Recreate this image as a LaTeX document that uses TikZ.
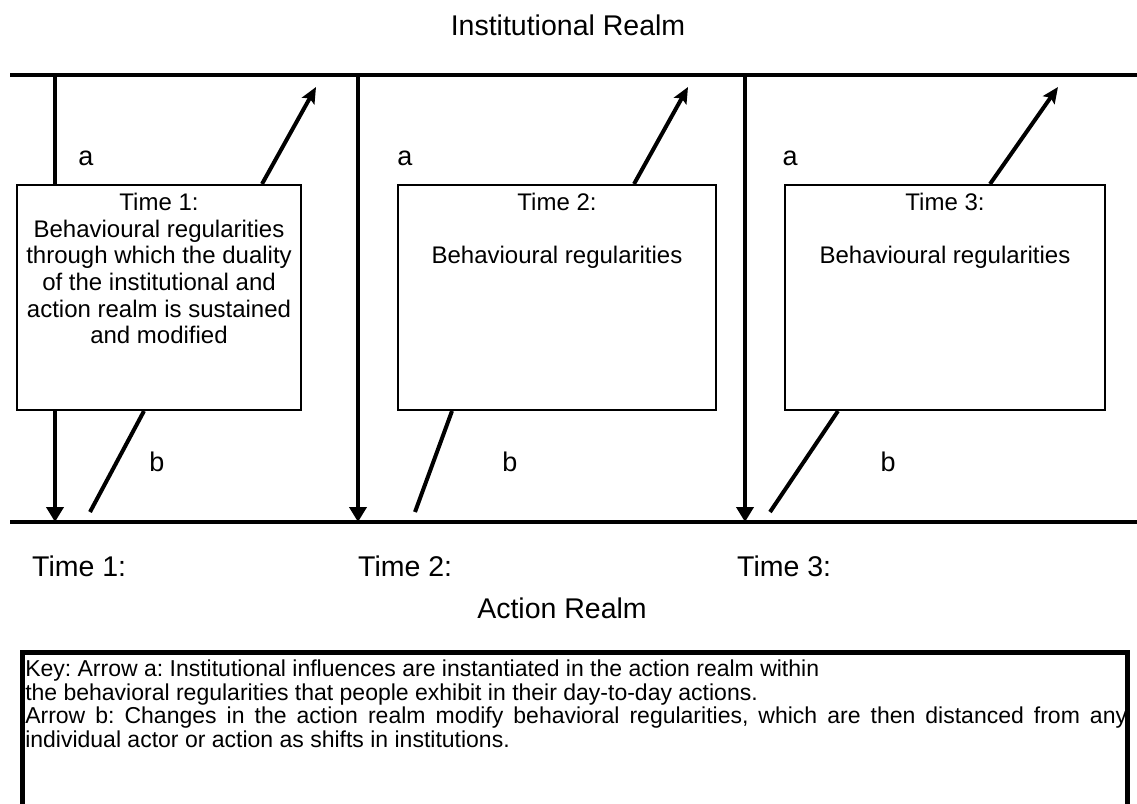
\documentclass[tikz,border=0pt]{standalone}
\usepackage{fontspec}
\setmainfont{Liberation Sans}
\usetikzlibrary{positioning,arrows.meta}

\begin{document}
\begin{tikzpicture}[x=1pt,y=-1pt,
  box/.style={draw,line width=2pt,inner sep=0pt},
  realm/.style={line width=4.5pt},
  vline/.style={line width=4pt},
  down/.style={line width=4pt,-{Triangle[width=17pt,length=15pt]}},
  up/.style={line width=4pt,-{Stealth[width=14pt,length=16pt,inset=3pt]}},
  lbl/.style={inner sep=0pt,font=\fontsize{27}{30}\selectfont},
  big/.style={inner sep=0pt,font=\fontsize{28.5}{34}\selectfont}]
\useasboundingbox (0,0) rectangle (1137,803);
\clip (0,0) rectangle (1137,803);
\node (1) [box] at (159,297.5) {\begin{minipage}[c][225pt][t]{284pt}\centering\fontsize{24}{26.7}\selectfont\vspace*{8pt}Time 1:\\Behavioural regularities\\through which the duality\\of the institutional and\\action realm is sustained\\and modified\end{minipage}};
\node (2) [box,right=95pt of 1] {\begin{minipage}[c][225pt][t]{318pt}\centering\fontsize{24}{26.7}\selectfont\vspace*{8pt}Time 2:\\[26.7pt]Behavioural regularities\end{minipage}};
\node (3) [box,right=67pt of 2] {\begin{minipage}[c][225pt][t]{320pt}\centering\fontsize{24}{26.7}\selectfont\vspace*{8pt}Time 3:\\[26.7pt]Behavioural regularities\end{minipage}};
\coordinate (tl) at (10,75);
\coordinate (tr) at (1145,75);
\coordinate (bl) at (10,522);
\coordinate (br) at (1145,522);
\draw[realm] (tl) -- (tr);
\draw[realm] (bl) -- (br);
\coordinate (a1) at (55,75);
\coordinate (a2) at (358,75);
\coordinate (a3) at (745,75);
\draw[vline] (a1) -- (a1 |- 1.north);
\draw[down] (a1 |- 1.south) -- (a1 |- bl);
\draw[down] (a2) -- (a2 |- bl);
\draw[down] (a3) -- (a3 |- bl);
\coordinate (u1) at (316,87);
\coordinate (u2) at (688,87);
\coordinate (u3) at (1058,87);
\draw[up] ([xshift=246pt]1.north west) -- (u1);
\draw[up] ([xshift=237pt]2.north west) -- (u2);
\draw[up] ([xshift=206pt]3.north west) -- (u3);
\coordinate (d1) at (90,512);
\coordinate (d2) at (415,512);
\coordinate (d3) at (770,512);
\draw[vline] ([xshift=128pt]1.south west) -- (d1);
\draw[vline] ([xshift=55pt]2.south west) -- (d2);
\draw[vline] ([xshift=54pt]3.south west) -- (d3);
\node (la1) [lbl] at (86,158) {a};
\node (la2) [lbl] at (405,158) {a};
\node (la3) [lbl] at (790,158) {a};
\node (lb1) [lbl] at (157,462) {b};
\node (lb2) [lbl] at (510,462) {b};
\node (lb3) [lbl] at (888,462) {b};
\node (inst) [big,anchor=base] at (568,35) {Institutional Realm};
\node (t1) [big,anchor=base west] at (32,576) {Time 1:};
\node (t2) [big,anchor=base west] at (358,576) {Time 2:};
\node (t3) [big,anchor=base west] at (737,576) {Time 3:};
\node (act) [big,anchor=base] at (562,618) {Action Realm};
\node (key) [draw,line width=4.5pt,inner sep=0pt,anchor=north west] at (20,650) {\begin{minipage}[t][200pt][t]{1105pt}\frenchspacing\fontsize{23}{23.5}\selectfont\leftskip=3pt\parindent=0pt\vspace*{8pt}Key: Arrow a: Institutional influences are instantiated in the action realm within\\the behavioral regularities that people exhibit in their day-to-day actions.\\Arrow b: Changes in the action realm modify behavioral regularities, which are then distanced from any\linebreak individual actor or action as shifts in institutions.\end{minipage}};
\end{tikzpicture}
\end{document}
